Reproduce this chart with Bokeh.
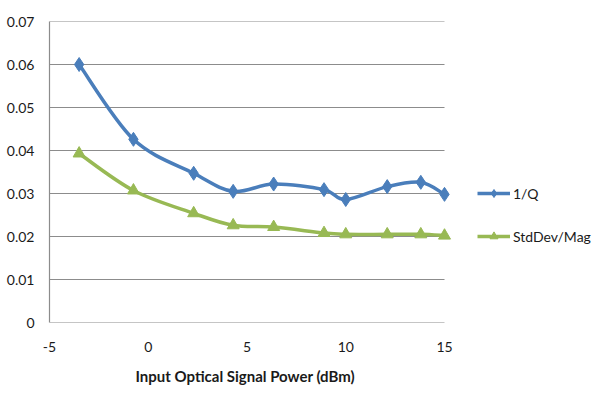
from bokeh.plotting import figure
from bokeh.models import Legend, LegendItem, FixedTicker, Range1d, ColumnDataSource, Title
from bokeh.embed import file_html
from bokeh.resources import INLINE

power = [-3.5, -0.75, 2.3, 4.3, 6.35, 8.9, 10.0, 12.1, 13.8, 15.0]
inv_q = [0.0600, 0.0426, 0.0347, 0.0305, 0.0322, 0.0309, 0.0286, 0.0316, 0.0326, 0.0298]
std_mag = [0.0393, 0.0307, 0.0254, 0.0226, 0.0222, 0.0208, 0.0205, 0.0205, 0.0205, 0.0202]
x_ticks = [-5, 0, 5, 10, 15]
y_ticks = [0, 0.01, 0.02, 0.03, 0.04, 0.05, 0.06, 0.07]
x_min, x_max = -5, 15

BLUE = "#4A7EBB"
GREEN = "#98B954"
GRID = "#8C8C8C"
FONT = "Lato"
TXT = "#1a1a1a"

# frame spans plot area plus legend area (legend sits inside the frame)
px_per_unit = (444 - 49) / (x_max - x_min)
x_end = x_max + (600 - 444) / px_per_unit

p = figure(width=600, height=395, output_backend="svg", toolbar_location=None,
           x_range=Range1d(x_min, x_end), y_range=Range1d(0, 0.07),
           min_border_left=49, min_border_right=0, min_border_top=21, min_border_bottom=10)
p.outline_line_color = None
p.xgrid.grid_line_color = None
p.ygrid.grid_line_color = None
p.xaxis.ticker = FixedTicker(ticks=x_ticks)
p.yaxis.ticker = FixedTicker(ticks=y_ticks)
p.yaxis.major_label_overrides = {0: "0"}
p.xaxis.major_label_overrides = {-5: "-5"}
p.xaxis.axis_line_color = None
p.yaxis.axis_line_color = GRID
p.yaxis.axis_line_width = 1.2
for ax in (p.xaxis, p.yaxis):
    ax.major_tick_line_color = None
    ax.minor_tick_line_color = None
    ax.major_tick_out = 0
    ax.major_tick_in = 0
    ax.major_label_text_font = FONT
    ax.major_label_text_font_size = "14px"
    ax.major_label_text_color = TXT
p.yaxis.major_label_standoff = 15
p.xaxis.major_label_standoff = 19

# horizontal gridlines (and x-axis line at 0) limited to the data area
p.segment(x0=[x_min] * len(y_ticks), x1=[x_max] * len(y_ticks), y0=y_ticks, y1=y_ticks,
          line_color=GRID, line_width=1.2)

title = Title(text="Input Optical Signal Power (dBm)", align="left", offset=86,
              text_font=FONT, text_font_size="15px", text_font_style="bold",
              text_color=TXT, standoff=21)
p.add_layout(title, "below")


def smooth(xs, ys):
    n = len(xs)
    d = dict(x0=[], y0=[], x1=[], y1=[], cx0=[], cy0=[], cx1=[], cy1=[])
    for i in range(n - 1):
        x0p, y0p = (xs[i - 1], ys[i - 1]) if i > 0 else (xs[i], ys[i])
        x3p, y3p = (xs[i + 2], ys[i + 2]) if i + 2 < n else (xs[i + 1], ys[i + 1])
        d["x0"].append(xs[i]); d["y0"].append(ys[i])
        d["x1"].append(xs[i + 1]); d["y1"].append(ys[i + 1])
        d["cx0"].append(xs[i] + (xs[i + 1] - x0p) / 6)
        d["cy0"].append(ys[i] + (ys[i + 1] - y0p) / 6)
        d["cx1"].append(xs[i + 1] - (x3p - xs[i]) / 6)
        d["cy1"].append(ys[i + 1] - (y3p - ys[i]) / 6)
    return ColumnDataSource(d)


items = []
for ys, color, marker, label, size in ((inv_q, BLUE, "diamond", "1/Q", 14),
                                        (std_mag, GREEN, "triangle", "StdDev/Mag", 12)):
    p.bezier(x0="x0", y0="y0", x1="x1", y1="y1", cx0="cx0", cy0="cy0", cx1="cx1", cy1="cy1",
             source=smooth(power, ys), line_color=color, line_width=3.5)
    s = p.scatter(power, ys, marker=marker, size=size, fill_color=color, line_color=color)
    lg = p.line([power[0]], [ys[0]], line_color=color, line_width=3.5, visible=False)
    items.append(LegendItem(label=label, renderers=[lg, s]))

legend = Legend(items=items, location=(428, 76), orientation="vertical",
                padding=0, margin=0, spacing=23, glyph_width=33, glyph_height=20, label_standoff=3,
                label_text_font=FONT, label_text_font_size="14px", label_text_color=TXT,
                border_line_color=None, background_fill_alpha=0)
p.add_layout(legend, "center")

open("out.html", "w").write(file_html(p, INLINE))
